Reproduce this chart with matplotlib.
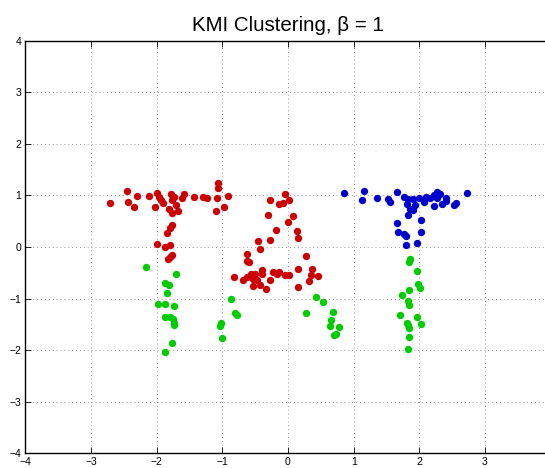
import matplotlib
matplotlib.use('Agg')
import matplotlib.pyplot as plt

# cluster 1 (red): left "T" and the "A"
red_x = [-2.71, -2.45, -2.44, -2.30, -2.35, -2.12, -2.03, -1.99, -1.97, -1.93,
         -1.91, -1.78, -1.76, -1.73, -1.81, -1.77, -1.70, -1.68, -1.62, -1.58,
         -1.43, -1.30, -1.23, -1.08, -1.07, -1.06, -1.10, -0.97, -0.91,
         -1.77, -1.79, -1.84, -1.99, -1.87, -1.79, -1.77, -1.82, -1.80,
         -0.27, -0.05, -0.13, -0.08, 0.02, -0.31, 0.08, 0.00, -0.18, 0.13,
         0.15, -0.27, -0.45, -0.42, -0.62, -0.63, -0.59, 0.28, -0.82, -0.68,
         -0.62, -0.56, -0.54, -0.50, -0.47, -0.54, -0.43, -0.39, -0.39, -0.27,
         -0.34, -0.23, -0.17, -0.14, -0.05, 0.02, 0.15, 0.15, 0.37, 0.35,
         0.32, 0.46]
red_y = [0.85, 1.08, 0.87, 0.99, 0.77, 0.98, 0.78, 1.05, 0.96, 0.90,
         0.86, 1.02, 0.91, 0.97, 0.74, 0.66, 0.82, 0.69, 0.94, 1.02,
         0.97, 0.97, 0.95, 0.95, 1.23, 1.15, 0.69, 0.77, 0.98,
         0.43, 0.37, 0.27, 0.06, 0.00, 0.03, -0.15, -0.23, -0.19,
         0.90, 1.02, 0.83, 0.85, 0.91, 0.62, 0.59, 0.49, 0.33, 0.30,
         0.17, 0.13, 0.11, -0.04, -0.14, -0.27, -0.29, -0.17, -0.59, -0.65,
         -0.59, -0.53, -0.63, -0.53, -0.64, -0.76, -0.73, -0.45, -0.52, -0.65,
         -0.81, -0.48, -0.52, -0.48, -0.54, -0.54, -0.42, -0.77, -0.43, -0.55,
         -0.66, -0.57]

# cluster 2 (blue): right "T" top
blue_x = [0.85, 1.16, 1.13, 1.36, 1.52, 1.55, 1.66, 1.77, 1.82, 1.81,
          1.91, 1.94, 2.00, 2.07, 2.10, 2.17, 2.22, 2.27, 2.27, 2.32,
          2.22, 2.35, 2.40, 2.40, 2.56, 2.53, 2.73, 1.86, 1.90, 1.83,
          1.66, 2.03, 1.68, 1.77, 1.80, 2.02, 1.80, 1.96]
blue_y = [1.04, 1.09, 0.91, 0.95, 0.93, 0.87, 1.06, 0.97, 0.92, 0.83,
          0.92, 0.82, 0.94, 0.87, 0.97, 0.95, 1.00, 1.07, 0.94, 1.02,
          0.80, 0.84, 0.94, 0.89, 0.85, 0.82, 1.04, 0.73, 0.71, 0.62,
          0.47, 0.53, 0.29, 0.25, 0.22, 0.29, 0.03, 0.07]

# cluster 3 (green): lower parts of the letters
green_x = [-2.16, -1.70, -1.88, -1.81, -1.84, -1.98, -1.88, -1.73, -1.87, -1.79,
           -1.75, -1.74, -1.74, -1.77, -1.87,
           -0.87, -0.80, -0.78, -1.02, -1.04, -1.00,
           0.42, 0.53, 0.28, 0.69, 0.66, 0.64, 0.77, 0.70, 0.73,
           1.86, 1.85, 1.97, 1.98, 2.01, 1.84, 1.73, 1.83, 1.84, 1.70,
           1.96, 1.81, 1.83, 1.85, 2.03, 1.84, 1.83]
green_y = [-0.39, -0.53, -0.70, -0.74, -0.90, -1.10, -1.11, -1.14, -1.35, -1.35,
           -1.40, -1.52, -1.48, -1.86, -2.04,
           -1.00, -1.28, -1.32, -1.47, -1.53, -1.77,
           -0.97, -1.07, -1.28, -1.26, -1.41, -1.53, -1.55, -1.70, -1.68,
           -0.24, -0.29, -0.47, -0.72, -0.79, -0.83, -0.94, -1.04, -1.12, -1.32,
           -1.35, -1.47, -1.52, -1.57, -1.50, -1.75, -1.97]

ticks = [-4, -3, -2, -1, 0, 1, 2, 3, 4]
# the "4" on x falls past the cropped right edge in the reference
xtick_labels = ['\u22124', '\u22123', '\u22122', '\u22121', '0', '1', '2', '3', '']

plt.rcParams['font.family'] = ['Liberation Sans', 'DejaVu Sans']

fig = plt.figure(figsize=(5.45, 4.68), dpi=100)
ax = fig.add_axes([0.0464, 0.0314, 0.964, 0.882])

ax.plot(red_x, red_y, 'o', color='#cc0000', markersize=5.3, markeredgewidth=0)
ax.plot(blue_x, blue_y, 'o', color='#0000cc', markersize=5.3, markeredgewidth=0)
ax.plot(green_x, green_y, 'o', color='#00cc00', markersize=5.3, markeredgewidth=0)

ax.set_xlim(-4, 4)
ax.set_ylim(-4, 4)
ax.set_xticks(ticks)
ax.set_xticklabels(xtick_labels)
ax.set_yticks(ticks)
ax.tick_params(direction='in', length=4, width=0.6, labelsize=7.5, pad=3,
               top=True, right=True)
ax.grid(True, color='#999999', linestyle=(0, (1, 3)), linewidth=0.7)
for s in ax.spines.values():
    s.set_linewidth(1.0)

ax.set_title('KMI Clustering, β = 1', fontsize=14.8, pad=7)

fig.savefig('out.png', dpi=100)
